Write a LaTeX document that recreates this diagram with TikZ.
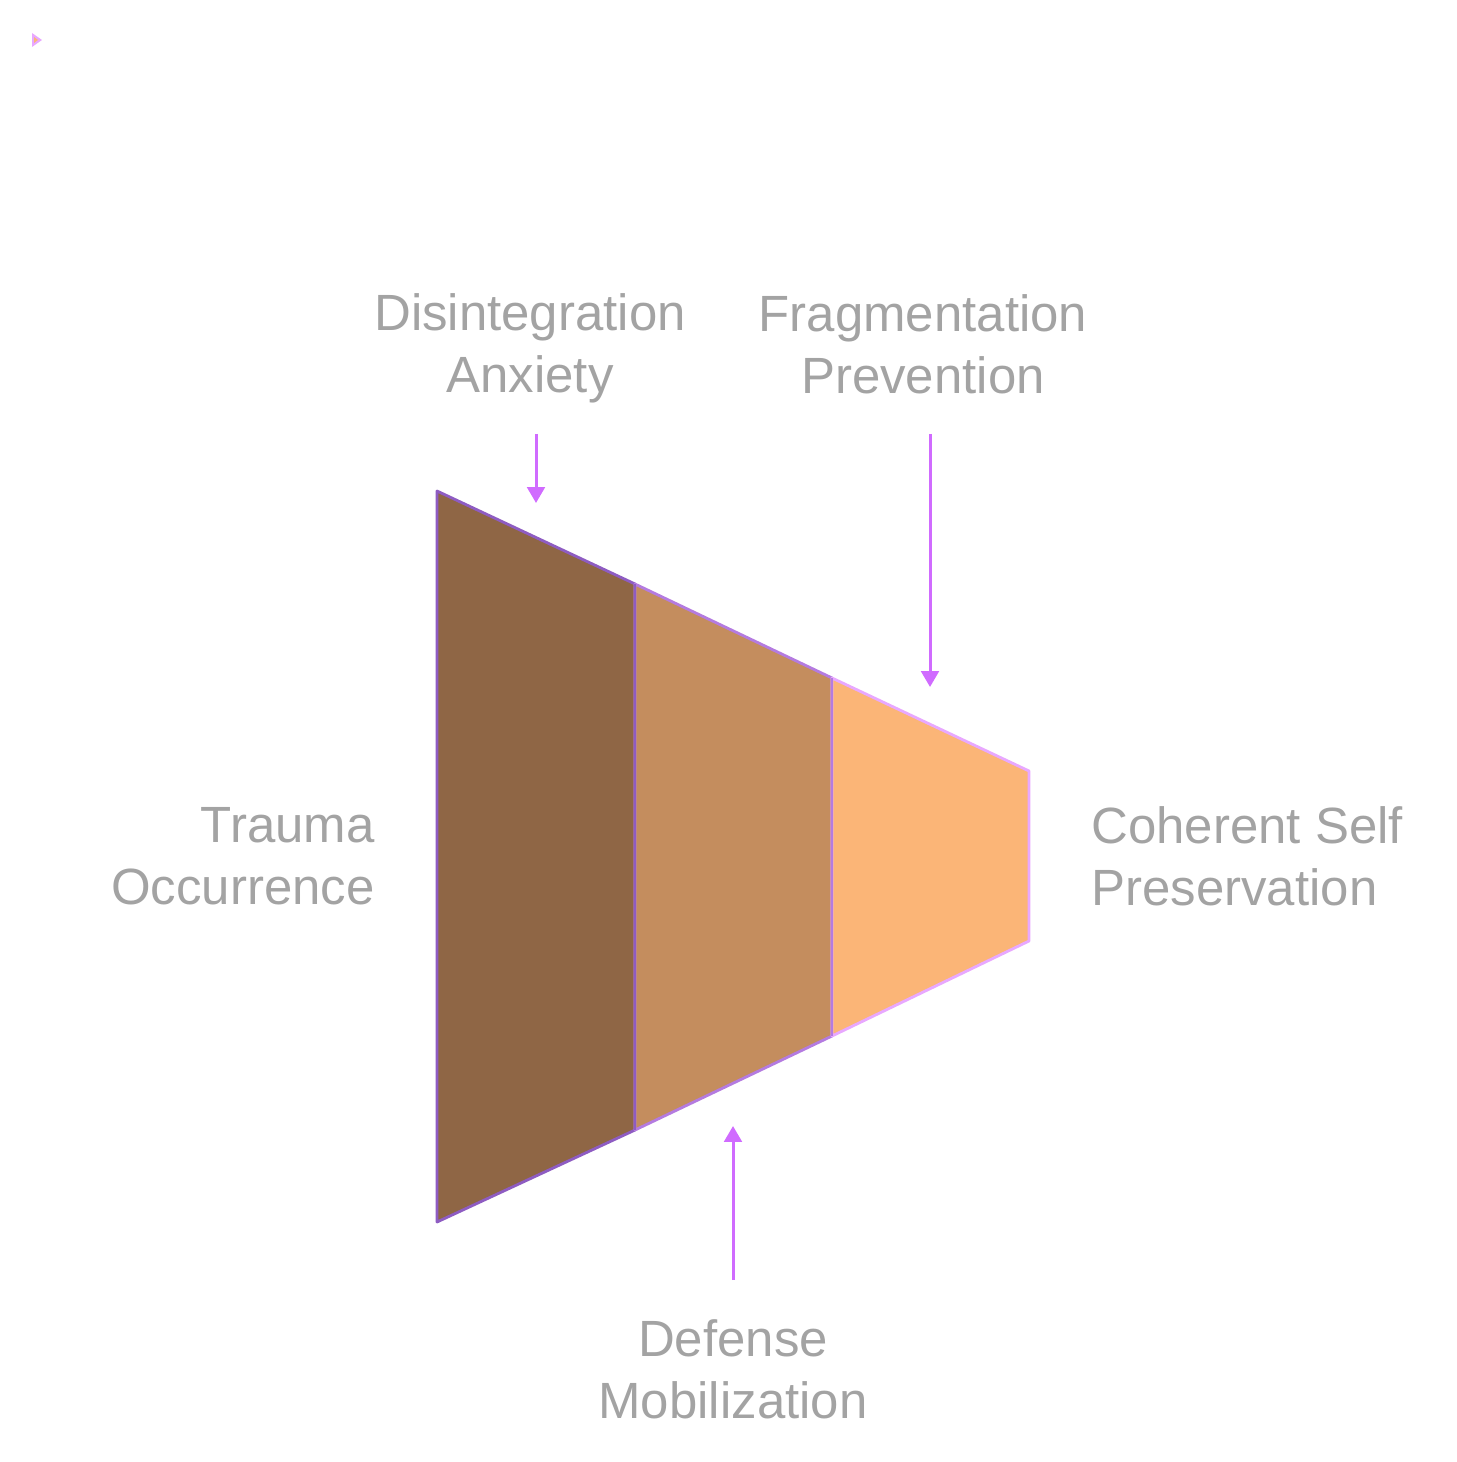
\documentclass[tikz,border=0pt]{standalone}
\usepackage{fontspec}
\setmainfont{Liberation Sans}
\usetikzlibrary{arrows.meta}
\definecolor{mytext}{HTML}{A3A3A3}
\definecolor{myarrow}{HTML}{D06BFF}
\definecolor{mydarkbrown}{HTML}{8F6645}
\definecolor{mybrown}{HTML}{C48D5E}
\definecolor{mylightorange}{HTML}{FBB577}
\definecolor{mydarkedge}{HTML}{8E5CC2}
\definecolor{myedge}{HTML}{B47BE0}
\definecolor{mylightedge}{HTML}{E8A8FF}

\begin{document}
\begin{tikzpicture}[x=0.02cm,y=-0.02cm]
			\tikzset{% styles for labels, arrows and funnel parts
				label/.style={text=mytext,font=\fontsize{29}{35.3}\selectfont,inner sep=0pt},
				pointer/.style={draw=myarrow,line width=1.7pt,-{Triangle[width=10pt,length=9pt]}},
				darkpart/.style={fill=mydarkbrown,draw=mydarkedge,line width=1.6pt,line join=round},
				midpart/.style={fill=mybrown,draw=myedge,line width=1.6pt,line join=round},
				lightpart/.style={fill=mylightorange,draw=mylightedge,line width=1.6pt,line join=round}}
			\useasboundingbox (0,0) rectangle (1456,1462);
			% funnel
			\draw[darkpart] (437,491) -- (635,584) -- (635,1130) -- (437,1222) -- cycle;
			\draw[midpart] (635,584) -- (832,678) -- (832,1036) -- (635,1130) -- cycle;
			\draw[lightpart] (832,678) -- (1029,771) -- (1029,941) -- (832,1036) -- cycle;
			\draw[mydarkedge,line width=1.6pt] (635,584) -- (635,1130);
			\draw[myedge,line width=1.6pt] (832,678) -- (832,1036);
			% little mark top left
			\fill[mylightedge] (32,33) -- (42,40) -- (32,47) -- cycle;
			\fill[mylightorange] (34,37) -- (38,40) -- (34,43) -- cycle;
			% labels
			\node[label,align=center] (anxiety) at (530,348) {Disintegration\\Anxiety};
			\node[label,align=center] (prevention) at (923,344) {Fragmentation\\Prevention};
			\node[label,align=right,anchor=east] (trauma) at (375,856) {Trauma\\Occurrence};
			\node[label,align=left,anchor=west] (coherent) at (1091,856) {Coherent Self\\Preservation};
			\node[label,align=center] (defense) at (733,1369) {Defense\\Mobilization};
			% arrows
			\coordinate (anxietyfoot) at (536,434);
			\coordinate (anxietytip) at (536,503);
			\coordinate (preventionfoot) at (930,434);
			\coordinate (preventiontip) at (930,687);
			\coordinate (defensefoot) at (733,1280);
			\coordinate (defensetip) at (733,1126);
			\draw[pointer] (anxietyfoot) -- (anxietytip);
			\draw[pointer] (preventionfoot) -- (preventiontip);
			\draw[pointer] (defensefoot) -- (defensetip);
\end{tikzpicture}
\end{document}
